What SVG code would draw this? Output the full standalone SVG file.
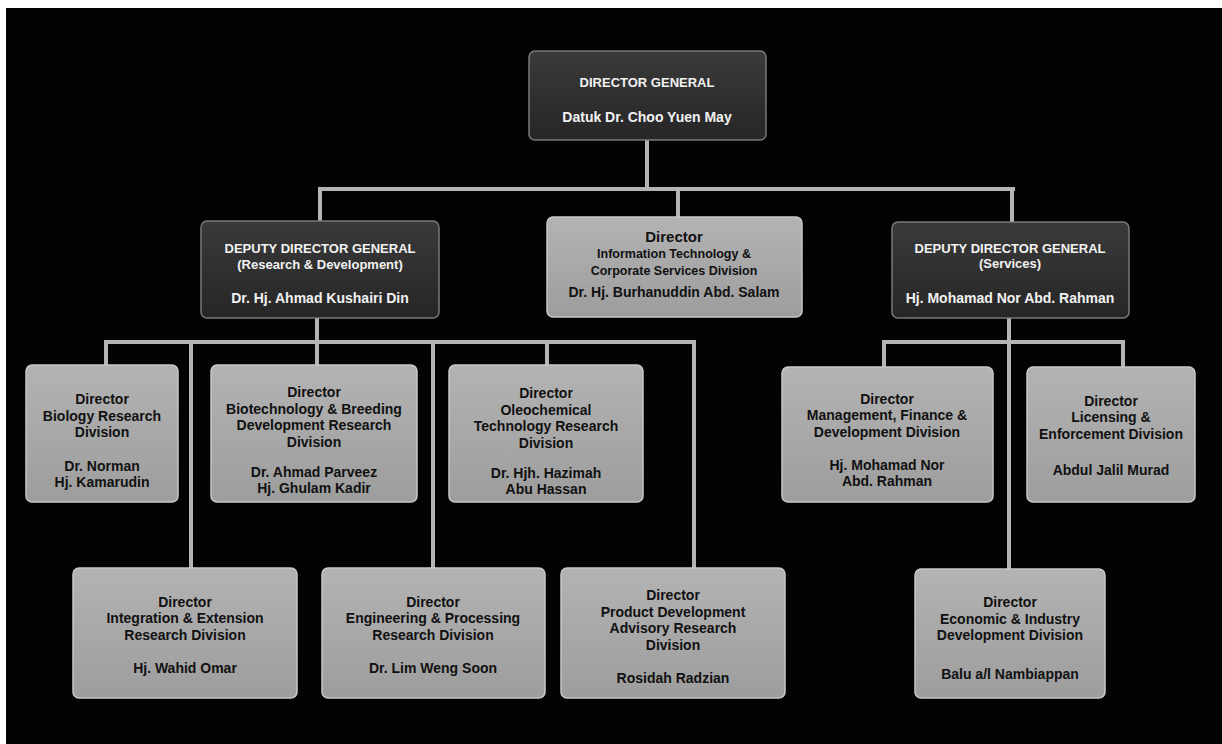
<svg xmlns="http://www.w3.org/2000/svg" width="1222" height="744" viewBox="0 0 1222 744">
<style>
.bg{fill:#030303}
.dark{fill:url(#gDark);stroke:#7a7a7a;stroke-width:1.5}
.light{fill:url(#gLight);stroke:#c8c8c8;stroke-width:1.5}
.tw{font-family:"Liberation Sans",Arial,sans-serif;font-weight:bold;fill:#f2f2f2;text-anchor:middle}
.tb{font-family:"Liberation Sans",Arial,sans-serif;font-weight:bold;fill:#111;text-anchor:middle}
.conn line{stroke:#b4b4b4;stroke-width:4;stroke-linecap:square}
</style>
<defs>
<linearGradient id="gDark" x1="0" y1="0" x2="0" y2="1">
<stop offset="0" stop-color="#3a3a3a"/><stop offset="1" stop-color="#262626"/>
</linearGradient>
<linearGradient id="gLight" x1="0" y1="0" x2="0" y2="1">
<stop offset="0" stop-color="#b3b3b3"/><stop offset="1" stop-color="#9d9d9d"/>
</linearGradient>
</defs>
<rect x="0" y="0" width="1222" height="744" fill="#ffffff"/>
<rect class="bg" x="6" y="8" width="1216" height="736"/>

<g id="connectors" class="conn">
<line x1="647" y1="140" x2="647" y2="189"/>
<line x1="320" y1="189" x2="1013" y2="189"/>
<line x1="320" y1="189" x2="320" y2="221"/>
<line x1="678" y1="189" x2="678" y2="217"/>
<line x1="1012" y1="189" x2="1012" y2="222"/>
<line x1="317" y1="318" x2="317" y2="342"/>
<line x1="106" y1="342" x2="694" y2="342"/>
<line x1="106" y1="342" x2="106" y2="365"/>
<line x1="317" y1="342" x2="317" y2="365"/>
<line x1="547" y1="342" x2="547" y2="365"/>
<line x1="191" y1="342" x2="191" y2="568"/>
<line x1="433" y1="342" x2="433" y2="568"/>
<line x1="694" y1="342" x2="694" y2="568"/>
<line x1="1009" y1="318" x2="1009" y2="569"/>
<line x1="884" y1="342" x2="1123" y2="342"/>
<line x1="884" y1="342" x2="884" y2="367"/>
<line x1="1123" y1="342" x2="1123" y2="367"/>
</g>

<g id="director-general">
<rect class="dark" x="529" y="51" width="237" height="89" rx="6"/>
<text class="tw" x="647" y="87" font-size="13">DIRECTOR GENERAL</text>
<text class="tw" x="647" y="122" font-size="14">Datuk Dr. Choo Yuen May</text>
</g>

<g id="ddg-rd">
<rect class="dark" x="201" y="221" width="238" height="97" rx="6"/>
<text class="tw" x="320" y="253" font-size="13">DEPUTY DIRECTOR GENERAL</text>
<text class="tw" x="320" y="269" font-size="13">(Research &amp; Development)</text>
<text class="tw" x="320" y="303" font-size="14">Dr. Hj. Ahmad Kushairi Din</text>
</g>

<g id="it-corporate">
<rect class="light" x="547" y="217" width="255" height="100" rx="6"/>
<text class="tb" x="674" y="242" font-size="15">Director</text>
<text class="tb" x="674" y="258" font-size="12.5">Information Technology &amp;</text>
<text class="tb" x="674" y="275" font-size="12.5">Corporate Services Division</text>
<text class="tb" x="674" y="297" font-size="14">Dr. Hj. Burhanuddin Abd. Salam</text>
</g>

<g id="ddg-services">
<rect class="dark" x="892" y="222" width="237" height="96" rx="6"/>
<text class="tw" x="1010" y="253" font-size="13">DEPUTY DIRECTOR GENERAL</text>
<text class="tw" x="1010" y="268" font-size="13">(Services)</text>
<text class="tw" x="1010" y="303" font-size="14">Hj. Mohamad Nor Abd. Rahman</text>
</g>

<g id="biology">
<rect class="light" x="26" y="365" width="152" height="137" rx="6"/>
<text class="tb" x="102" y="404" font-size="14">Director</text>
<text class="tb" x="102" y="421" font-size="14">Biology Research</text>
<text class="tb" x="102" y="437" font-size="14">Division</text>
<text class="tb" x="102" y="471" font-size="14">Dr. Norman</text>
<text class="tb" x="102" y="487" font-size="14">Hj. Kamarudin</text>
</g>

<g id="biotech">
<rect class="light" x="211" y="365" width="206" height="137" rx="6"/>
<text class="tb" x="314" y="397" font-size="14">Director</text>
<text class="tb" x="314" y="414" font-size="14">Biotechnology &amp; Breeding</text>
<text class="tb" x="314" y="430" font-size="14">Development Research</text>
<text class="tb" x="314" y="447" font-size="14">Division</text>
<text class="tb" x="314" y="477" font-size="14">Dr. Ahmad Parveez</text>
<text class="tb" x="314" y="493" font-size="14">Hj. Ghulam Kadir</text>
</g>

<g id="oleochemical">
<rect class="light" x="449" y="365" width="194" height="137" rx="6"/>
<text class="tb" x="546" y="398" font-size="14">Director</text>
<text class="tb" x="546" y="415" font-size="14">Oleochemical</text>
<text class="tb" x="546" y="431" font-size="14">Technology Research</text>
<text class="tb" x="546" y="448" font-size="14">Division</text>
<text class="tb" x="546" y="478" font-size="14">Dr. Hjh. Hazimah</text>
<text class="tb" x="546" y="494" font-size="14">Abu Hassan</text>
</g>

<g id="management">
<rect class="light" x="782" y="367" width="211" height="135" rx="6"/>
<text class="tb" x="887" y="404" font-size="14">Director</text>
<text class="tb" x="887" y="420" font-size="14">Management, Finance &amp;</text>
<text class="tb" x="887" y="437" font-size="14">Development Division</text>
<text class="tb" x="887" y="470" font-size="14">Hj. Mohamad Nor</text>
<text class="tb" x="887" y="486" font-size="14">Abd. Rahman</text>
</g>

<g id="licensing">
<rect class="light" x="1027" y="367" width="168" height="135" rx="6"/>
<text class="tb" x="1111" y="406" font-size="14">Director</text>
<text class="tb" x="1111" y="422" font-size="14">Licensing &amp;</text>
<text class="tb" x="1111" y="439" font-size="14">Enforcement Division</text>
<text class="tb" x="1111" y="475" font-size="14">Abdul Jalil Murad</text>
</g>

<g id="integration">
<rect class="light" x="73" y="568" width="224" height="130" rx="6"/>
<text class="tb" x="185" y="607" font-size="14">Director</text>
<text class="tb" x="185" y="623" font-size="14">Integration &amp; Extension</text>
<text class="tb" x="185" y="640" font-size="14">Research Division</text>
<text class="tb" x="185" y="673" font-size="14">Hj. Wahid Omar</text>
</g>

<g id="engineering">
<rect class="light" x="322" y="568" width="223" height="130" rx="6"/>
<text class="tb" x="433" y="607" font-size="14">Director</text>
<text class="tb" x="433" y="623" font-size="14">Engineering &amp; Processing</text>
<text class="tb" x="433" y="640" font-size="14">Research Division</text>
<text class="tb" x="433" y="673" font-size="14">Dr. Lim Weng Soon</text>
</g>

<g id="product-development">
<rect class="light" x="561" y="568" width="224" height="130" rx="6"/>
<text class="tb" x="673" y="600" font-size="14">Director</text>
<text class="tb" x="673" y="617" font-size="14">Product Development</text>
<text class="tb" x="673" y="633" font-size="14">Advisory Research</text>
<text class="tb" x="673" y="650" font-size="14">Division</text>
<text class="tb" x="673" y="683" font-size="14">Rosidah Radzian</text>
</g>

<g id="economic">
<rect class="light" x="915" y="569" width="190" height="129" rx="6"/>
<text class="tb" x="1010" y="607" font-size="14">Director</text>
<text class="tb" x="1010" y="624" font-size="14">Economic &amp; Industry</text>
<text class="tb" x="1010" y="640" font-size="14">Development Division</text>
<text class="tb" x="1010" y="679" font-size="14">Balu a/l Nambiappan</text>
</g>
</svg>
